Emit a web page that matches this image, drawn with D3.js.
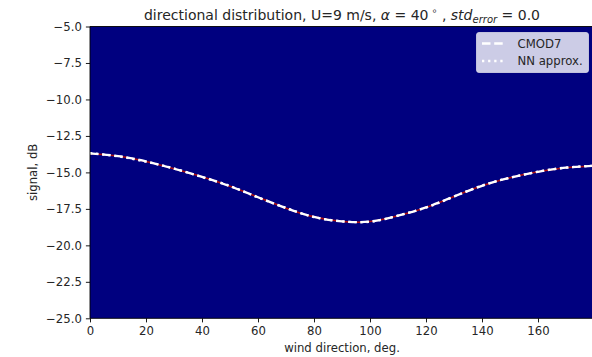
<!DOCTYPE html>
<html><head><meta charset="utf-8">
<script src="https://cdn.jsdelivr.net/npm/d3@7"></script>
<style>body{margin:0;background:#fff}svg{display:block}text{font-family:"DejaVu Sans",sans-serif;fill:#262626}</style>
</head><body><svg id="c" width="592" height="357"></svg>
<script>
const directions = [0,10,20,30,40,50,60,70,80,90,100,110,120,130,140,150,160,170,180];
const cmod7 = [-13.70,-13.88,-14.25,-14.75,-15.30,-15.95,-16.70,-17.45,-18.05,-18.36,-18.37,-17.97,-17.40,-16.65,-15.92,-15.36,-14.96,-14.68,-14.55];
const nnApprox = [-13.68,-13.90,-14.27,-14.73,-15.32,-15.93,-16.72,-17.43,-18.06,-18.35,-18.38,-17.96,-17.41,-16.66,-15.90,-15.37,-14.95,-14.67,-14.54];
const xTicks = [0,20,40,60,80,100,120,140,160];
const yTicks = [-5,-7.5,-10,-12.5,-15,-17.5,-20,-22.5,-25];
const legendLabels = ["CMOD7","NN approx."];

const svg = d3.select("#c");
const L=90, T=26.5, B=318.3, R=594;
const x = d3.scaleLinear().domain([0,180]).range([L,R]);
const y = d3.scaleLinear().domain([-25,-5]).range([B,T]);

svg.append("rect").attr("x",L).attr("y",T).attr("width",R-L).attr("height",B-T).attr("fill","#00007f");

const line = d3.line().x((d,i)=>x(directions[i])).y(d=>y(d)).curve(d3.curveNatural);
svg.append("path").datum(cmod7).attr("d",line).attr("fill","none").attr("stroke","#b01010").attr("stroke-width",1.6);
svg.append("path").datum(cmod7).attr("d",line).attr("fill","none").attr("stroke","#fff").attr("stroke-width",2.3).attr("stroke-dasharray","8.5,3.7");
svg.append("path").datum(nnApprox).attr("d",line).attr("fill","none").attr("stroke","#fff").attr("stroke-width",2.3).attr("stroke-dasharray","2.3,3.8");

// axes
const fmt = d=>d3.format(".1f")(d).replace("-","\u2212");
const ya = svg.append("g").attr("transform",`translate(${L},0)`).call(d3.axisLeft(y).tickValues(yTicks).tickFormat(fmt).tickSize(4.1).tickPadding(4));
const xa = svg.append("g").attr("transform",`translate(0,${B})`).call(d3.axisBottom(x).tickValues(xTicks).tickFormat(d3.format("d")).tickSize(4.1).tickPadding(4));
[ya,xa].forEach(g=>{g.select(".domain").remove();g.selectAll("line").attr("stroke","#000").attr("stroke-width",0.9);g.selectAll("text").attr("font-size",11.7).attr("fill","#262626").style("font-family","DejaVu Sans");});
svg.append("line").attr("x1",L).attr("x2",L).attr("y1",T).attr("y2",B).attr("stroke","#000").attr("stroke-width",0.9);
svg.append("line").attr("x1",L).attr("x2",R).attr("y1",B).attr("y2",B).attr("stroke","#000").attr("stroke-width",0.9);
svg.append("line").attr("x1",L).attr("x2",R).attr("y1",T).attr("y2",T).attr("stroke","#000").attr("stroke-width",0.9);

svg.append("text").attr("x",(L+R)/2).attr("y",352).attr("text-anchor","middle").attr("font-size",11.7).text("wind direction, deg.");
svg.append("text").attr("transform",`translate(36.5,${(T+B)/2}) rotate(-90)`).attr("text-anchor","middle").attr("font-size",11.7).text("signal, dB");

// title
const t = svg.append("text").attr("x",(L+R)/2).attr("y",19.5).attr("text-anchor","middle").attr("font-size",14);
t.append("tspan").text("directional distribution, U=9 m/s, ");
t.append("tspan").attr("font-style","italic").text("\u03b1");
t.append("tspan").text(" = 40");
t.append("tspan").attr("font-size",9.5).attr("dy",-5.5).text(" \u2218");
t.append("tspan").attr("dy",5.5).text(" , ");
t.append("tspan").attr("font-style","italic").text("std");
t.append("tspan").attr("font-style","italic").attr("font-size",10).attr("dy",3).text("error");
t.append("tspan").attr("dy",-3).text(" = 0.0");

// legend
const lg = svg.append("g");
lg.append("rect").attr("x",476.5).attr("y",32.5).attr("width",112).attr("height",40).attr("rx",2.5).attr("fill","#ccccE6").attr("stroke","#d8d8e8").attr("stroke-width",0.8);
const dashes=["8.5,3.7","2.3,3.8"];
legendLabels.forEach((lab,i)=>{
  const yy = 43.5 + i*17.5;
  lg.append("line").attr("x1",482).attr("x2",505).attr("y1",yy).attr("y2",yy).attr("stroke","#fff").attr("stroke-width",2.3).attr("stroke-dasharray",dashes[i]);
  lg.append("text").attr("x",517.5).attr("y",yy+4.2).attr("font-size",11.7).text(lab);
});
</script></body></html>
